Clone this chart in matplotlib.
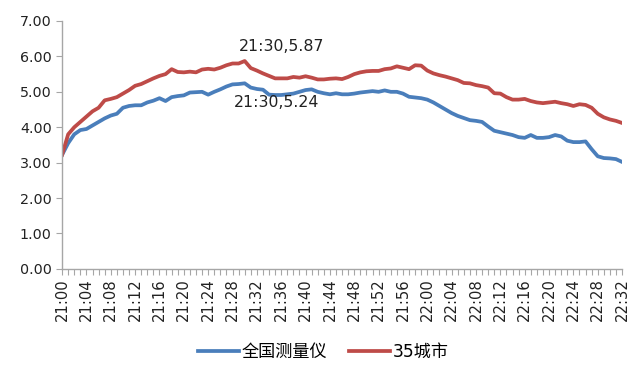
import matplotlib
matplotlib.use("Agg")
import matplotlib.pyplot as plt
import numpy as np

plt.rcParams['font.family'] = ['DejaVu Sans', 'Noto Sans CJK SC']

# 21:00 .. 22:32 every minute
times = [f"{21 + (m // 60)}:{m % 60:02d}" for m in range(0, 93)]

national = [3.22, 3.55, 3.80, 3.92, 3.95, 4.05, 4.15, 4.25, 4.33, 4.38,
            4.55, 4.60, 4.62, 4.62, 4.70, 4.75, 4.82, 4.74, 4.85, 4.88,
            4.90, 4.98, 4.99, 5.00, 4.92, 5.00, 5.07, 5.15, 5.21, 5.22,
            5.24, 5.12, 5.08, 5.06, 4.92, 4.91, 4.91, 4.93, 4.95, 5.00,
            5.05, 5.07, 5.00, 4.96, 4.93, 4.96, 4.93, 4.93, 4.95, 4.98,
            5.00, 5.02, 5.00, 5.04, 5.00, 5.00, 4.95, 4.86, 4.84, 4.82,
            4.78, 4.70, 4.60, 4.50, 4.40, 4.32, 4.26, 4.20, 4.18, 4.15,
            4.02, 3.90, 3.86, 3.82, 3.78, 3.72, 3.70, 3.78, 3.70, 3.70,
            3.72, 3.78, 3.74, 3.62, 3.58, 3.58, 3.60, 3.38, 3.18, 3.13,
            3.12, 3.10, 3.02]

city35 = [3.22, 3.80, 4.00, 4.15, 4.30, 4.45, 4.55, 4.76, 4.80, 4.85,
          4.95, 5.05, 5.17, 5.22, 5.30, 5.38, 5.45, 5.50, 5.64, 5.56,
          5.55, 5.57, 5.55, 5.63, 5.65, 5.63, 5.68, 5.75, 5.80, 5.80,
          5.87, 5.67, 5.60, 5.52, 5.45, 5.38, 5.38, 5.38, 5.42, 5.40,
          5.44, 5.40, 5.35, 5.35, 5.37, 5.38, 5.36, 5.42, 5.50, 5.55,
          5.58, 5.59, 5.59, 5.64, 5.66, 5.72, 5.68, 5.64, 5.75, 5.74,
          5.60, 5.52, 5.47, 5.43, 5.38, 5.33, 5.25, 5.24, 5.19, 5.16,
          5.12, 4.96, 4.95, 4.85, 4.78, 4.78, 4.80, 4.74, 4.70, 4.68,
          4.70, 4.72, 4.68, 4.65, 4.60, 4.65, 4.63, 4.55, 4.38, 4.28,
          4.22, 4.18, 4.12]

series_names = ["全国测量仪", "35城市"]
colors = ["#4A7EBB", "#BE4B48"]
yticks = [0, 1, 2, 3, 4, 5, 6, 7]

fig = plt.figure(figsize=(6.4, 3.75), dpi=100)
ax = fig.add_axes([0.097, 0.283, 0.875, 0.661])

x = np.arange(len(times))
ax.plot(x, national, color=colors[0], lw=2.7, label=series_names[0], solid_joinstyle='round')
ax.plot(x, city35, color=colors[1], lw=2.7, label=series_names[1], solid_joinstyle='round')

ax.set_xlim(0, len(times) - 1)
ax.set_ylim(0, 7)
ax.set_yticks(yticks)
ax.set_yticklabels([f"{v:.2f}" for v in yticks], fontsize=10.3)
ax.set_xticks(x)
ax.set_xticklabels([t if i % 4 == 0 else "" for i, t in enumerate(times)],
                   rotation=90, fontsize=10.6)

for s in ["top", "right"]:
    ax.spines[s].set_visible(False)
for s in ["left", "bottom"]:
    ax.spines[s].set_color("#A6A6A6")
    ax.spines[s].set_linewidth(1.0)
ax.tick_params(axis="both", colors="#A6A6A6", labelcolor="#222222", length=4, width=0.8)
ax.tick_params(axis="x", pad=3)

# peak annotations
pk1 = int(np.argmax(city35))
pk2 = int(np.argmax(national))
ax.annotate(f"{times[pk1]},{city35[pk1]:.2f}", (pk1, city35[pk1]), xytext=(26.5, 10.8),
            textcoords="offset points", ha="center", va="center", fontsize=11.3, color="#222222")
ax.annotate(f"{times[pk2]},{national[pk2]:.2f}", (pk2, national[pk2]), xytext=(23, -13.7),
            textcoords="offset points", ha="center", va="center", fontsize=11.3, color="#222222")

fig.legend(loc="center", bbox_to_anchor=(0.505, 0.062), ncol=2, frameon=False,
           fontsize=12.3, handlelength=2.4, handletextpad=0.15, columnspacing=1.3)

fig.savefig("out.png", dpi=100)
